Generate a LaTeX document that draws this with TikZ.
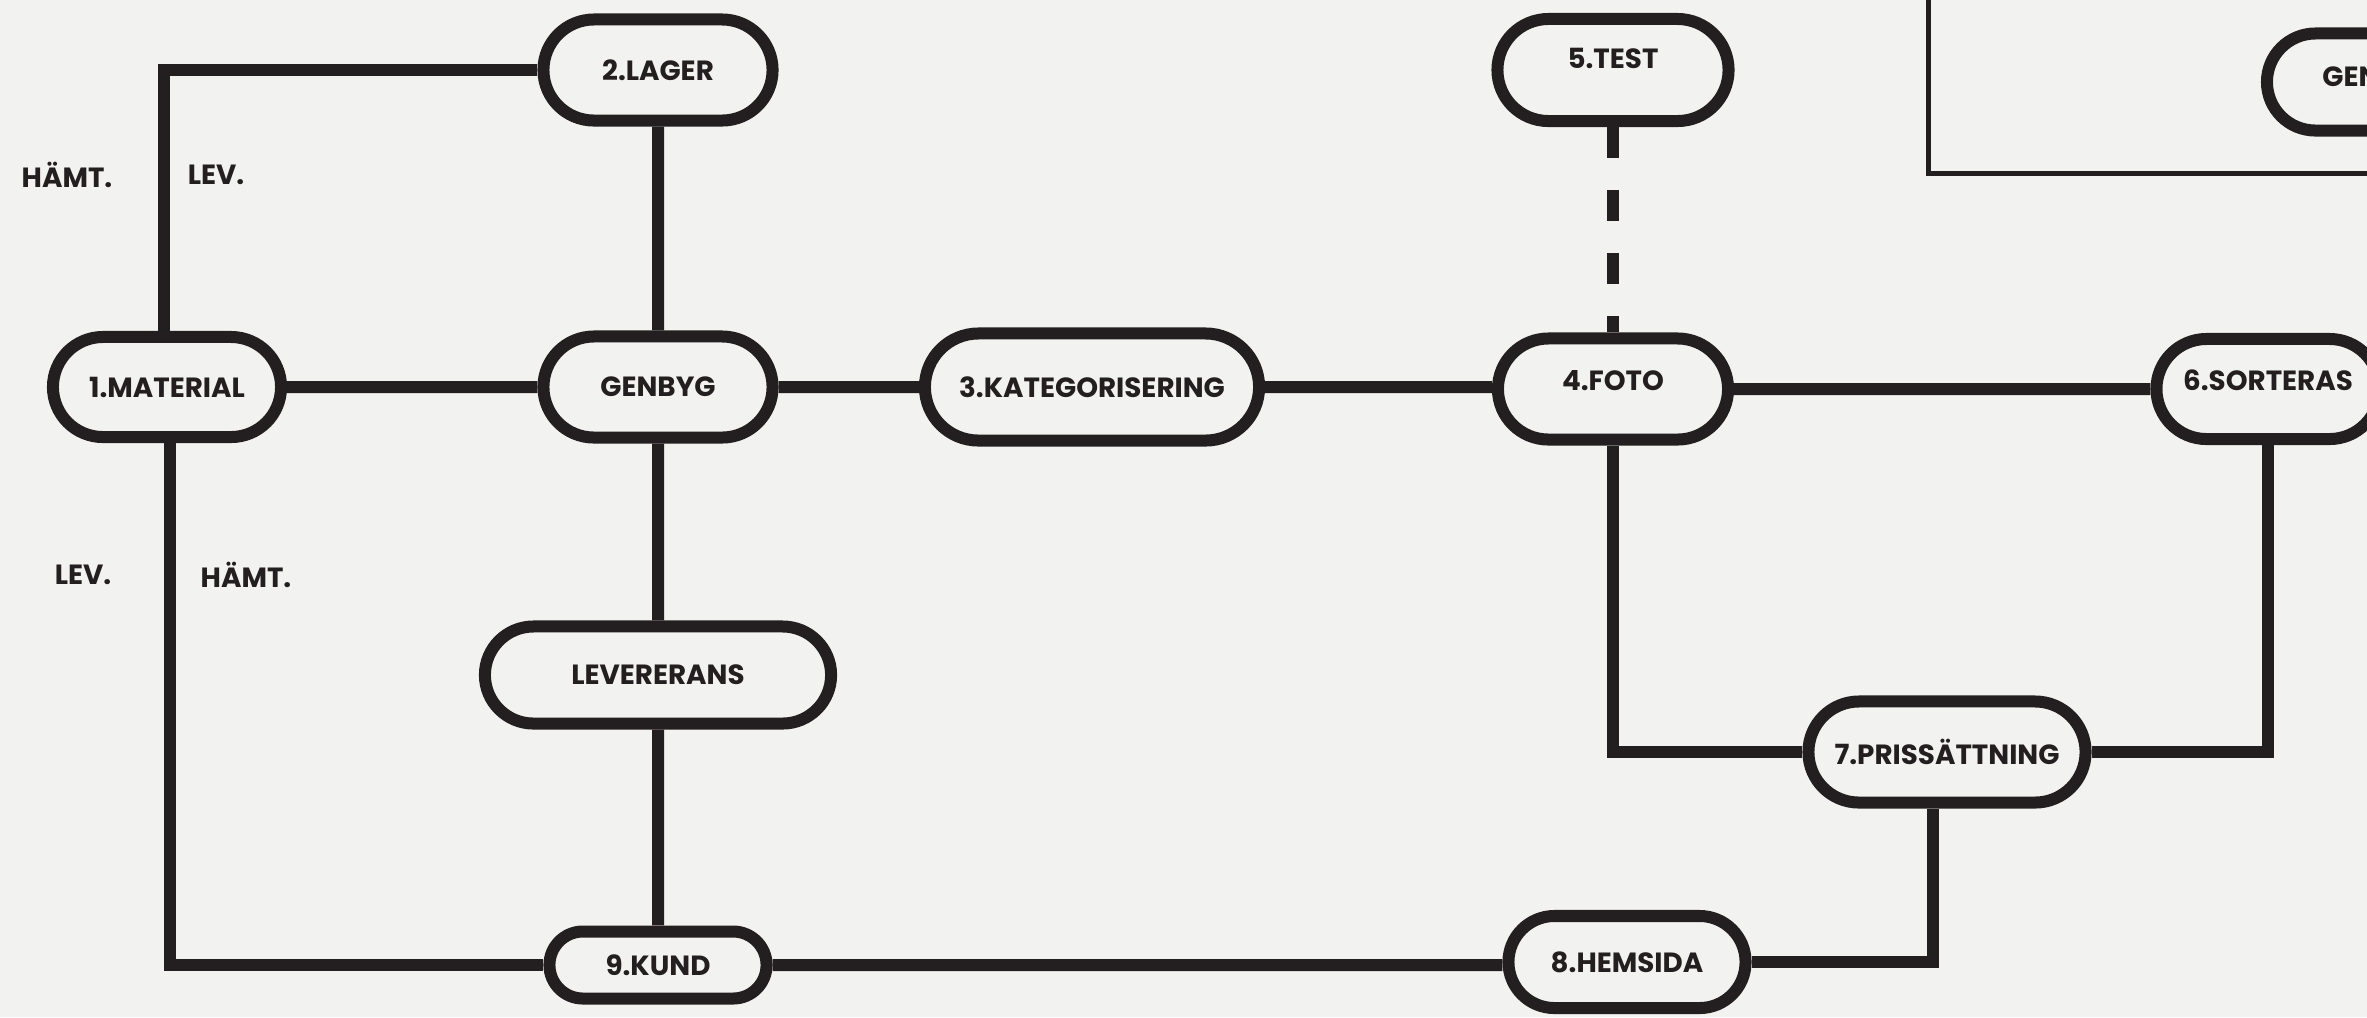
\documentclass[tikz,border=0pt]{standalone}
\usepackage{fontspec}
\setmainfont{Poppins}
\usetikzlibrary{shapes.misc,positioning}
\definecolor{ink}{HTML}{231F20}
\definecolor{paper}{HTML}{F2F2F0}

\begin{document}
\begin{tikzpicture}[x=0.01cm, y=-0.01cm,
  pill/.style={rounded rectangle, draw=ink, line width=0.12cm, fill=paper, minimum width=#1, minimum height=1.01cm, inner sep=0pt, font=\fontsize{7.9}{9}\selectfont\bfseries, text=ink},
  pill/.default=2.29cm,
  lbl/.style={font=\fontsize{7.9}{9}\selectfont\bfseries, text=ink},
  link/.style={draw=ink, line width=0.12cm}
]
  \useasboundingbox (0,0) rectangle (2367,1017);
  \clip (0,0) rectangle (2367,1017);
  \fill[paper] (0,0) rectangle (2367,1017);

  \draw[ink, line width=0.05cm] (1928,-20) rectangle (2400,173);

  \node[pill=2.28cm, minimum height=1.0cm] (mat) at (167,387) {1.MATERIAL};
  \node[pill] (lag) at (658,70) {2.LAGER};
  \node[pill] (gen) at (658,387) {GENBYG};
  \node[pill=3.34cm, minimum height=1.07cm] (kat) at (1092,387) {3.KATEGORISERING};
  \node[pill=2.30cm, text depth=0.18cm] (foto) at (1613,389) {4.FOTO};
  \node[pill=2.31cm, minimum height=1.02cm, text depth=0.24cm] (test) at (1613,70) {5.TEST};
  \node[pill=2.23cm, minimum height=1.0cm, text depth=0.18cm] (sort) at (2268,389) {6.SORTERAS};
  \node[pill=2.77cm] (pris) at (1947,752) {7.PRISSÄTTNING};
  \node[pill=2.37cm, minimum height=0.92cm] (hem) at (1627,962) {8.HEMSIDA};
  \node[pill=2.17cm, minimum height=0.67cm] (kund) at (658,965) {9.KUND};
  \node[pill=3.46cm, minimum height=0.97cm] (lev) at (658,675) {LEVERERANS};
  \node[pill=2.26cm, minimum height=0.97cm, text depth=0.1cm] (gen2) at (2380,82) {GENBYG};

  \node[lbl] (hamt1) at (67,175) {HÄMT.};
  \node[lbl] (lev1) at (216,175) {LEV.};
  \node[lbl] (lev2) at (83,575) {LEV.};
  \node[lbl] (hamt2) at (246,575) {HÄMT.};

  \draw[link] ([xshift=-0.03cm]mat.north) |- (lag.west);
  \draw[link] ([xshift=0.03cm]mat.south) |- (kund.west);
  \draw[link] (mat) -- (gen);
  \draw[link] (lag) -- (gen);
  \draw[link] (gen) -- (kat);
  \draw[link] (kat) -- (foto.west |- kat);
  \draw[link] (foto) -- (sort);
  \draw[link] (gen) -- (lev);
  \draw[link] (lev) -- (kund);
  \draw[link] (kund) -- (hem.west |- kund);
  \draw[link] (foto.south) |- (pris.west);
  \draw[link] (sort.south) |- (pris.east);
  \draw[link] ([xshift=-0.14cm]pris.south) |- (hem.east);
  \draw[link, dash pattern=on 0.31cm off 0.32cm] (test.south) -- (foto.north);
\end{tikzpicture}
\end{document}
